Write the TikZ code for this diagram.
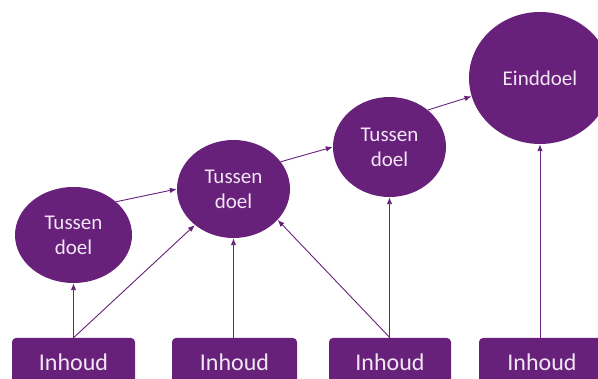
\documentclass[tikz,border=0pt]{standalone}
\usepackage{fontspec}
\setmainfont{Carlito}
\usetikzlibrary{shapes.geometric,arrows.meta}
\definecolor{vpurple}{HTML}{68217A}
\definecolor{vtext}{HTML}{F2E6F5}
\begin{document}
\begin{tikzpicture}[x=1pt,y=-1pt,
  goal/.style={ellipse, fill=vpurple, inner sep=0pt, text=vtext,
    font=\fontsize{21}{25}\selectfont, align=center},
  content/.style={rectangle, rounded corners=4pt, fill=vpurple, text=vtext,
    font=\fontsize{24}{28}\selectfont, minimum height=48pt, inner sep=0pt},
  link/.style={draw=vpurple, line width=0.9pt, -{Latex[length=7pt,width=5.5pt]}}]
\useasboundingbox (0,0) rectangle (598,379);
\clip (0,0) rectangle (598,379);
\node[goal, minimum width=117pt, minimum height=96pt] (c1) at (73.5,235) {Tussen\\doel};
\node[goal, minimum width=113pt, minimum height=98pt] (c2) at (233.5,189) {Tussen\\doel};
\node[goal, minimum width=113pt, minimum height=100pt] (c3) at (389.5,147) {Tussen\\doel};
\node[goal, minimum width=142pt, minimum height=132pt] (c4) at (540,78) {Einddoel};
\node[content, minimum width=123pt] (b1) at (73.5,362) {Inhoud};
\node[content, minimum width=125pt] (b2) at (234.5,362) {Inhoud};
\node[content, minimum width=122pt] (b3) at (390,362) {Inhoud};
\node[content, minimum width=126pt] (b4) at (542,362) {Inhoud};
\draw[link] (b1.north) -- (c1.south);
\draw[link] (b1.north) -- (c2.223);
\draw[link] (c2.south |- b2.north) -- (c2.south);
\draw[link] (b3.north) -- (c2.-35);
\draw[link] (c3.south |- b3.north) -- (c3.south);
\draw[link] (c4.south |- b4.north) -- (c4.south);
\draw[link] (c1.38) -- (c2.180);
\draw[link] (c2.30) -- (c3.180);
\draw[link] (c3.44) -- (c4.195);
\end{tikzpicture}
\end{document}
